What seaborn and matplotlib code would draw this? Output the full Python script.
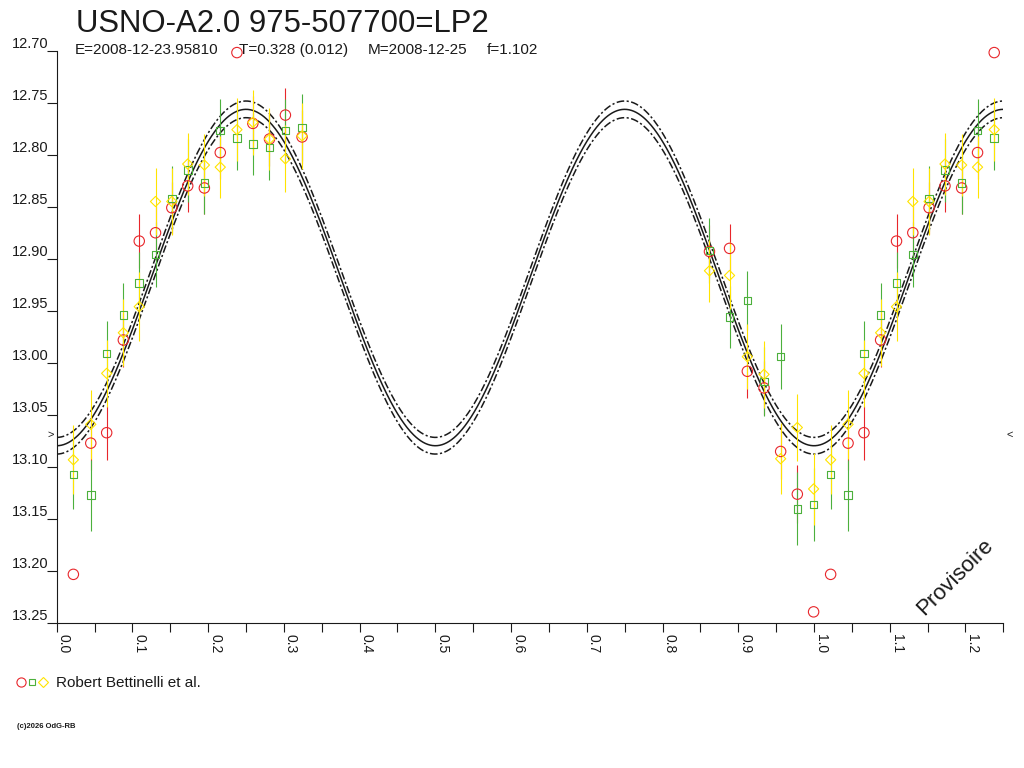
import numpy as np
import pandas as pd
import matplotlib
matplotlib.use("Agg")
import matplotlib.pyplot as plt
import matplotlib.transforms as mtransforms
from matplotlib.lines import Line2D
from matplotlib.legend_handler import HandlerTuple
import seaborn as sns

# ---------------- data ----------------
phase = [0.022, 0.045, 0.066, 0.088, 0.109, 0.1305, 0.152, 0.173, 0.195, 0.216,
         0.238, 0.259, 0.281, 0.302, 0.324, 0.862, 0.8885, 0.912, 0.934, 0.956,
         0.978, 0.9995]

red_mag = [13.203, 13.077, 13.067, 12.978, 12.883, 12.875, 12.851, 12.830, 12.832, 12.798,
           12.702, 12.770, 12.785, 12.762, 12.783, 12.893, 12.890, 13.008, 13.024, 13.085,
           13.126, 13.239]
red_err = [np.nan, 0.026, 0.026, 0.026, 0.026, 0.026, 0.025, 0.025, 0.025, 0.025,
           np.nan, 0.026, 0.026, 0.026, 0.026, 0.025, 0.023, 0.026, 0.026, 0.026,
           0.028, np.nan]

green_mag = [13.107, 13.127, 12.991, 12.954, 12.923, 12.896, 12.842, 12.815, 12.827, 12.777,
             12.784, 12.790, 12.793, 12.777, 12.774, 12.892, 12.956, 12.940, 13.018, 12.994,
             13.140, 13.136]
green_err = [0.033, 0.034, 0.031, 0.031, 0.030, 0.031, 0.031, 0.030, 0.030, 0.030,
             0.031, 0.030, 0.031, 0.030, 0.032, 0.031, 0.030, 0.028, 0.033, 0.031,
             0.035, 0.035]

yellow_mag = [13.093, 13.059, 13.010, 12.971, 12.946, 12.845, 12.845, 12.809, 12.810, 12.812,
              12.776, 12.769, 12.785, 12.804, 12.782, 12.9115, 12.916, 12.994, 13.011, 13.092,
              13.062, 13.121]
yellow_err = [0.033, 0.033, 0.032, 0.032, 0.033, 0.032, 0.032, 0.030, 0.030, 0.030,
              0.030, 0.031, 0.030, 0.032, 0.032, 0.030, 0.032, 0.031, 0.032, 0.034,
              0.032, 0.035]

# fitted light-curve model (two waves per cycle) and its uncertainty band
fit_mean = 12.918
fit_amp = 0.1615
fit_band = 0.008

x_ticks = [0.0, 0.1, 0.2, 0.3, 0.4, 0.5, 0.6, 0.7, 0.8, 0.9, 1.0, 1.1, 1.2]
x_tick_labels = ["0.0", "0.1", "0.2", "0.3", "0.4", "0.5", "0.6", "0.7", "0.8", "0.9",
                 "1.0", "1.1", "1.2"]
y_ticks = [12.70, 12.75, 12.80, 12.85, 12.90, 12.95, 13.00, 13.05, 13.10, 13.15, 13.20, 13.25]
y_tick_labels = ["12.70", "12.75", "12.80", "12.85", "12.90", "12.95", "13.00", "13.05",
                 "13.10", "13.15", "13.20", "13.25"]

title = "USNO-A2.0 975-507700=LP2"
sub_E = "E=2008-12-23.95810"
sub_T = "T=0.328 (0.012)"
sub_M = "M=2008-12-25"
sub_f = "f=1.102"
legend_label = "Robert Bettinelli et al."
mean_level = 13.069

RED = "#e8262b"
GREEN = "#4cb03c"
YELLOW = "#ffe400"
INK = "#1a1a1a"

# ---------------- build tables ----------------
def series_table(mag, err):
    df = pd.DataFrame({"phase": phase, "mag": mag, "err": err})
    rep = df[df["phase"] < 0.25].copy()
    rep["phase"] = rep["phase"] + 1.0
    return pd.concat([df, rep], ignore_index=True)

red_df = series_table(red_mag, red_err)
green_df = series_table(green_mag, green_err)
yellow_df = series_table(yellow_mag, yellow_err)

grid = np.linspace(0.0, 1.25, 1200)
model = fit_mean + fit_amp * np.cos(4 * np.pi * grid)
curve_df = pd.DataFrame({"phase": grid, "mid": model,
                         "hi": model - fit_band, "lo": model + fit_band})

# ---------------- figure ----------------
sns.set_theme(style="white")
plt.rcParams["font.family"] = ["Liberation Sans", "DejaVu Sans"]

W, H = 1024, 768
fig = plt.figure(figsize=(W / 100, H / 100), dpi=100)
fig.patch.set_facecolor("white")
ax_l, ax_r, ax_t, ax_b = 56.7, 1003.3, 50.5, 623.3
ax = fig.add_axes([ax_l / W, (H - ax_b) / H, (ax_r - ax_l) / W, (ax_b - ax_t) / H])
ax.set_facecolor("white")

# model curves
dash = (0, (5, 1.6, 1.4, 1.6))
sns.lineplot(data=curve_df, x="phase", y="mid", color=INK, linewidth=1.1,
             estimator=None, sort=False, ax=ax)
sns.lineplot(data=curve_df, x="phase", y="hi", color=INK, linewidth=1.1,
             linestyle=dash, estimator=None, sort=False, ax=ax)
sns.lineplot(data=curve_df, x="phase", y="lo", color=INK, linewidth=1.1,
             linestyle=dash, estimator=None, sort=False, ax=ax)

# error bars (red, then green, then yellow on top)
for df, col in ((red_df, RED), (green_df, GREEN), (yellow_df, YELLOW)):
    ax.errorbar(df["phase"], df["mag"], yerr=df["err"], fmt="none",
                ecolor=col, elinewidth=0.8, capsize=0, clip_on=False, zorder=3)

# markers
sns.scatterplot(data=red_df, x="phase", y="mag", marker="o", s=56, color=RED,
                facecolor="none", edgecolor=RED, linewidth=0.8, clip_on=False,
                zorder=4, ax=ax)
sns.scatterplot(data=green_df, x="phase", y="mag", marker="s", s=30, color=GREEN,
                facecolor="none", edgecolor=GREEN, linewidth=0.8, clip_on=False,
                zorder=4, ax=ax)
sns.scatterplot(data=yellow_df, x="phase", y="mag", marker="D", s=27, color=YELLOW,
                facecolor="none", edgecolor=YELLOW, linewidth=0.8, clip_on=False,
                zorder=4, ax=ax)

# axes
ax.set_xlim(0.0, 1.25)
ax.set_ylim(13.25, 12.70)
ax.set_xlabel("")
ax.set_ylabel("")
for side in ("top", "right"):
    ax.spines[side].set_visible(False)
for side in ("left", "bottom"):
    ax.spines[side].set_color(INK)
    ax.spines[side].set_linewidth(0.8)

ax.set_xticks(x_ticks)
ax.set_xticks([0.05 + 0.1 * i for i in range(13)], minor=True)
ax.set_xticklabels(x_tick_labels, rotation=-90, ha="left", va="top",
                   fontsize=10, color=INK)
ax.tick_params(axis="x", which="both", direction="out", length=6.5, width=0.8,
               color=INK, pad=1, bottom=True)
ax.set_yticks(y_ticks)
ax.set_yticklabels(y_tick_labels, fontsize=10.5, color=INK)
ax.tick_params(axis="y", which="major", direction="out", length=7.5, width=0.8,
               color=INK, pad=-1.5, left=True)
for lab in ax.get_yticklabels():
    lab.set_va("bottom")

# mean-level markers at both ends
btr = mtransforms.blended_transform_factory(ax.transAxes, ax.transData)
ax.text(-0.003, mean_level, ">", transform=btr, ha="right", va="center",
        fontsize=8, color=INK, clip_on=False)
ax.text(1.003, mean_level, "<", transform=btr, ha="left", va="center",
        fontsize=8, color=INK, clip_on=False)

# "Provisoire" stamp
fig.text(955 / W, 1 - 577 / H, "Provisoire", rotation=45, ha="center", va="center",
         fontsize=16, color=INK)

# title and subtitle
fig.text(76 / W, 1 - 32 / H, title, fontsize=22.4, color=INK, ha="left", va="baseline")
for xp, s in ((75, sub_E), (239, sub_T), (368, sub_M), (487, sub_f)):
    fig.text(xp / W, 1 - 54 / H, s, fontsize=11, color=INK, ha="left", va="baseline")

# legend
h_r = Line2D([], [], ls="none", marker="o", ms=6.6, mfc="none", mec=RED, mew=0.8)
h_g = Line2D([], [], ls="none", marker="s", ms=4.6, mfc="none", mec=GREEN, mew=0.8)
h_y = Line2D([], [], ls="none", marker="D", ms=4.7, mfc="none", mec=YELLOW, mew=0.8)
leg = fig.legend(handles=[(h_r, h_g, h_y)], labels=[legend_label],
                 handler_map={tuple: HandlerTuple(ndivide=None, pad=0)},
                 loc="center left", bbox_to_anchor=(15 / W, 1 - 683 / H),
                 frameon=False, fontsize=11, handlelength=2.22, handletextpad=0.44,
                 borderpad=0, borderaxespad=0)
for t in leg.get_texts():
    t.set_color(INK)

# copyright
fig.text(17 / W, 1 - 728 / H, "(c)2026 OdG-RB", fontsize=5.5, fontweight="bold",
         color=INK, ha="left", va="baseline")

fig.savefig("out.png", dpi=100, facecolor="white")
